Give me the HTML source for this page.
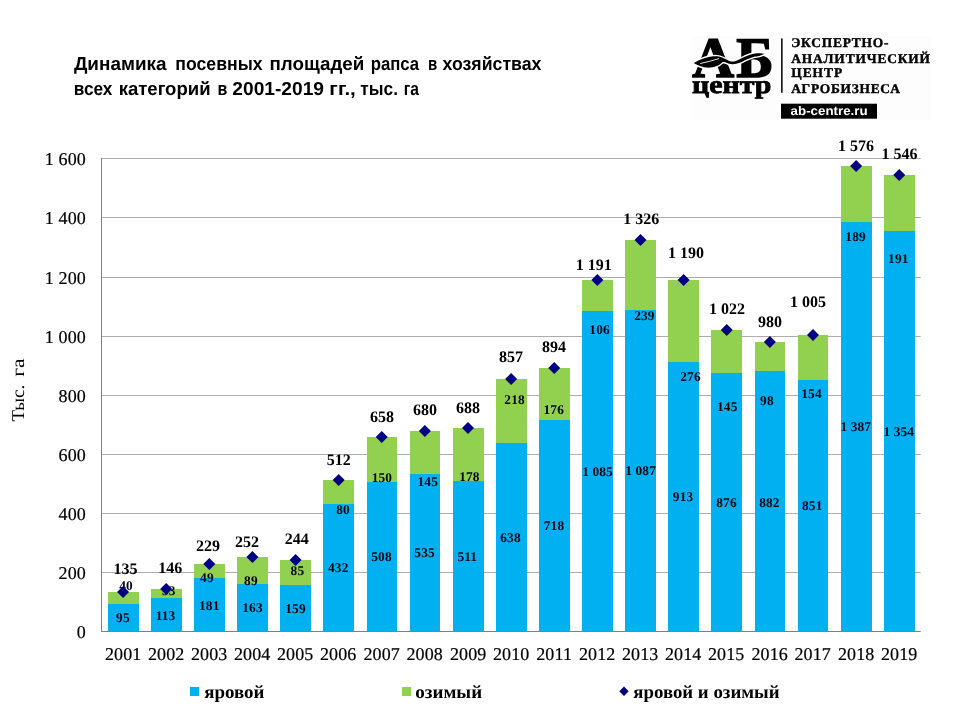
<!DOCTYPE html>
<html lang="ru">
<head>
<meta charset="utf-8">
<title>Динамика посевных площадей рапса</title>
<style>
html,body{margin:0;padding:0;background:#fff;}
body{width:960px;height:720px;overflow:hidden;position:relative;font-family:"Liberation Serif",serif;}
svg{position:absolute;left:0;top:0;display:block;will-change:transform;}
text{text-rendering:geometricPrecision;}
.ax{font-family:"Liberation Serif",serif;font-size:18px;letter-spacing:0.15px;fill:#000;stroke:#000;stroke-width:0.2px;}
.tot{font-family:"Liberation Serif",serif;font-size:16px;font-weight:bold;fill:#000;text-anchor:middle;}
.seg{font-family:"Liberation Serif",serif;font-size:13.33px;letter-spacing:0.15px;font-weight:bold;fill:#000614;text-anchor:middle;}
.leg{font-family:"Liberation Serif",serif;font-size:18.67px;font-weight:bold;fill:#000;}
.ttl{font-family:"Liberation Sans",sans-serif;font-weight:bold;fill:#000;}
.lg1{font-family:"Liberation Serif",serif;font-weight:bold;fill:#000;}
.lg2{font-family:"Liberation Sans",sans-serif;font-weight:bold;fill:#fff;}
</style>
</head>
<body>
<svg width="960" height="720" viewBox="0 0 960 720">
<rect x="0" y="0" width="960" height="720" fill="#ffffff"/>
<text class="ttl" font-size="18.8" transform="translate(73.91,70) scale(1.0062,1)">Динамика</text>
<text class="ttl" font-size="18.8" transform="translate(175.31,70) scale(0.9397,1)">посевных</text>
<text class="ttl" font-size="18.8" transform="translate(269.49,70) scale(0.9989,1)">площадей</text>
<text class="ttl" font-size="18.8" transform="translate(370.71,70) scale(0.8896,1)">рапса</text>
<text class="ttl" font-size="18.8" transform="translate(427.95,70) scale(0.8005,1)">в</text>
<text class="ttl" font-size="18.8" transform="translate(442.62,70) scale(0.9416,1)">хозяйствах</text>
<text class="ttl" font-size="18.8" transform="translate(73.79,95.3) scale(0.9168,1)">всех</text>
<text class="ttl" font-size="18.8" transform="translate(118.65,95.3) scale(0.9871,1)">категорий</text>
<text class="ttl" font-size="18.8" transform="translate(217.38,95.3) scale(0.8532,1)">в</text>
<text class="ttl" font-size="18.8" transform="translate(232.33,95.3) scale(1.0209,1)">2001-2019</text>
<text class="ttl" font-size="18.8" transform="translate(329.36,95.3) scale(1.0916,1)">гг.,</text>
<text class="ttl" font-size="18.8" transform="translate(360.28,95.3) scale(0.9206,1)">тыс.</text>
<text class="ttl" font-size="18.8" transform="translate(403.71,95.3) scale(0.8300,1)">га</text>
<g stroke="#adadad" stroke-width="1" fill="none">
<line x1="101.50" y1="572.50" x2="920.78" y2="572.50"/>
<line x1="101.50" y1="513.50" x2="920.78" y2="513.50"/>
<line x1="101.50" y1="454.50" x2="920.78" y2="454.50"/>
<line x1="101.50" y1="395.50" x2="920.78" y2="395.50"/>
<line x1="101.50" y1="336.50" x2="920.78" y2="336.50"/>
<line x1="101.50" y1="277.50" x2="920.78" y2="277.50"/>
<line x1="101.50" y1="217.50" x2="920.78" y2="217.50"/>
<line x1="101.50" y1="158.50" x2="920.78" y2="158.50"/>
</g>
<g shape-rendering="auto">
<rect x="108" y="592" width="31" height="12" fill="#92d050"/><rect x="108" y="604" width="31" height="27" fill="#00b0f0"/>
<rect x="151" y="589" width="31" height="9" fill="#92d050"/><rect x="151" y="598" width="31" height="33" fill="#00b0f0"/>
<rect x="194" y="564" width="31" height="14" fill="#92d050"/><rect x="194" y="578" width="31" height="53" fill="#00b0f0"/>
<rect x="237" y="557" width="31" height="27" fill="#92d050"/><rect x="237" y="584" width="31" height="47" fill="#00b0f0"/>
<rect x="280" y="560" width="31" height="25" fill="#92d050"/><rect x="280" y="585" width="31" height="46" fill="#00b0f0"/>
<rect x="323" y="480" width="31" height="24" fill="#92d050"/><rect x="323" y="504" width="31" height="127" fill="#00b0f0"/>
<rect x="367" y="437" width="30" height="45" fill="#92d050"/><rect x="367" y="482" width="30" height="149" fill="#00b0f0"/>
<rect x="410" y="431" width="30" height="43" fill="#92d050"/><rect x="410" y="474" width="30" height="157" fill="#00b0f0"/>
<rect x="453" y="428" width="31" height="53" fill="#92d050"/><rect x="453" y="481" width="31" height="150" fill="#00b0f0"/>
<rect x="496" y="379" width="31" height="64" fill="#92d050"/><rect x="496" y="443" width="31" height="188" fill="#00b0f0"/>
<rect x="539" y="368" width="31" height="52" fill="#92d050"/><rect x="539" y="420" width="31" height="211" fill="#00b0f0"/>
<rect x="582" y="280" width="31" height="31" fill="#92d050"/><rect x="582" y="311" width="31" height="320" fill="#00b0f0"/>
<rect x="625" y="240" width="31" height="70" fill="#92d050"/><rect x="625" y="310" width="31" height="321" fill="#00b0f0"/>
<rect x="668" y="280" width="31" height="82" fill="#92d050"/><rect x="668" y="362" width="31" height="269" fill="#00b0f0"/>
<rect x="711" y="330" width="31" height="43" fill="#92d050"/><rect x="711" y="373" width="31" height="258" fill="#00b0f0"/>
<rect x="755" y="342" width="30" height="29" fill="#92d050"/><rect x="755" y="371" width="30" height="260" fill="#00b0f0"/>
<rect x="798" y="335" width="30" height="45" fill="#92d050"/><rect x="798" y="380" width="30" height="251" fill="#00b0f0"/>
<rect x="841" y="166" width="31" height="56" fill="#92d050"/><rect x="841" y="222" width="31" height="409" fill="#00b0f0"/>
<rect x="884" y="175" width="31" height="56" fill="#92d050"/><rect x="884" y="231" width="31" height="400" fill="#00b0f0"/>
</g>
<g stroke="#808080" stroke-width="1" fill="none"><line x1="101.50" y1="158.00" x2="101.50" y2="632.00"/><line x1="101.00" y1="631.50" x2="920.78" y2="631.50"/></g>
<g class="ax" text-anchor="end">
<text x="86.0" y="637.50">0</text>
<text x="86.0" y="578.50">200</text>
<text x="86.0" y="519.50">400</text>
<text x="86.0" y="460.50">600</text>
<text x="86.0" y="401.50">800</text>
<text x="86.0" y="342.50">1 000</text>
<text x="86.0" y="283.50">1 200</text>
<text x="86.0" y="223.50">1 400</text>
<text x="86.0" y="164.50">1 600</text>
</g>
<g class="ax" text-anchor="middle">
<text x="123.20" y="660">2001</text>
<text x="166.20" y="660">2002</text>
<text x="209.20" y="660">2003</text>
<text x="252.20" y="660">2004</text>
<text x="295.20" y="660">2005</text>
<text x="338.20" y="660">2006</text>
<text x="381.70" y="660">2007</text>
<text x="424.70" y="660">2008</text>
<text x="468.20" y="660">2009</text>
<text x="511.20" y="660">2010</text>
<text x="554.20" y="660">2011</text>
<text x="597.20" y="660">2012</text>
<text x="640.20" y="660">2013</text>
<text x="683.20" y="660">2014</text>
<text x="726.20" y="660">2015</text>
<text x="769.70" y="660">2016</text>
<text x="812.70" y="660">2017</text>
<text x="856.20" y="660">2018</text>
<text x="899.20" y="660">2019</text>
</g>
<text font-family="Liberation Serif" font-size="18" fill="#000" transform="translate(24.1,421.38) rotate(-90) scale(1.0568,1)">Тыс.</text>
<text font-family="Liberation Serif" font-size="18" fill="#000" transform="translate(24.1,376.68) rotate(-90) scale(1.1856,1)">га</text>
<g class="seg">
<text x="122.90" y="622">95</text><text x="126.00" y="590">40</text>
<text x="165.50" y="620">113</text><text x="168.75" y="595">33</text>
<text x="209.25" y="610">181</text><text x="206.90" y="582">49</text>
<text x="252.50" y="612">163</text><text x="250.90" y="585">89</text>
<text x="295.50" y="613">159</text><text x="297.40" y="575">85</text>
<text x="338.25" y="572">432</text><text x="343.10" y="514">80</text>
<text x="381.50" y="561">508</text><text x="381.90" y="482">150</text>
<text x="424.60" y="557">535</text><text x="427.75" y="486">145</text>
<text x="467.25" y="561">511</text><text x="469.40" y="481">178</text>
<text x="510.50" y="542">638</text><text x="514.60" y="404">218</text>
<text x="554.00" y="530">718</text><text x="553.75" y="414">176</text>
<text x="597.50" y="476">1 085</text><text x="599.60" y="334">106</text>
<text x="640.60" y="475">1 087</text><text x="644.40" y="320">239</text>
<text x="683.10" y="501">913</text><text x="690.50" y="381">276</text>
<text x="726.50" y="507">876</text><text x="727.25" y="411">145</text>
<text x="769.40" y="507">882</text><text x="766.90" y="405">98</text>
<text x="812.25" y="510">851</text><text x="811.50" y="398">154</text>
<text x="855.75" y="431">1 387</text><text x="855.60" y="241">189</text>
<text x="898.75" y="436">1 354</text><text x="898.30" y="263">191</text>
</g>
<g fill="#000080">
<path d="M123.06 586.10L129.06 592.10L123.06 598.10L117.06 592.10Z"/>
<path d="M166.18 583.10L172.18 589.10L166.18 595.10L160.18 589.10Z"/>
<path d="M209.30 558.10L215.30 564.10L209.30 570.10L203.30 564.10Z"/>
<path d="M252.42 551.10L258.42 557.10L252.42 563.10L246.42 557.10Z"/>
<path d="M295.54 554.10L301.54 560.10L295.54 566.10L289.54 560.10Z"/>
<path d="M338.66 474.10L344.66 480.10L338.66 486.10L332.66 480.10Z"/>
<path d="M381.78 431.10L387.78 437.10L381.78 443.10L375.78 437.10Z"/>
<path d="M424.90 425.10L430.90 431.10L424.90 437.10L418.90 431.10Z"/>
<path d="M468.02 422.10L474.02 428.10L468.02 434.10L462.02 428.10Z"/>
<path d="M511.14 373.10L517.14 379.10L511.14 385.10L505.14 379.10Z"/>
<path d="M554.26 362.10L560.26 368.10L554.26 374.10L548.26 368.10Z"/>
<path d="M597.38 274.10L603.38 280.10L597.38 286.10L591.38 280.10Z"/>
<path d="M640.50 234.10L646.50 240.10L640.50 246.10L634.50 240.10Z"/>
<path d="M683.62 274.10L689.62 280.10L683.62 286.10L677.62 280.10Z"/>
<path d="M726.74 324.10L732.74 330.10L726.74 336.10L720.74 330.10Z"/>
<path d="M769.86 336.10L775.86 342.10L769.86 348.10L763.86 342.10Z"/>
<path d="M812.98 329.10L818.98 335.10L812.98 341.10L806.98 335.10Z"/>
<path d="M856.10 160.10L862.10 166.10L856.10 172.10L850.10 166.10Z"/>
<path d="M899.22 169.10L905.22 175.10L899.22 181.10L893.22 175.10Z"/>
</g>
<g class="tot">
<text x="125.50" y="574">135</text>
<text x="170.25" y="573">146</text>
<text x="208.00" y="551">229</text>
<text x="247.00" y="547">252</text>
<text x="296.75" y="544">244</text>
<text x="338.75" y="465">512</text>
<text x="382.10" y="422">658</text>
<text x="425.10" y="415">680</text>
<text x="468.10" y="413">688</text>
<text x="511.00" y="362">857</text>
<text x="554.10" y="352">894</text>
<text x="593.75" y="270">1 191</text>
<text x="641.25" y="224">1 326</text>
<text x="685.90" y="258">1 190</text>
<text x="727.00" y="314">1 022</text>
<text x="770.00" y="327">980</text>
<text x="808.10" y="307">1 005</text>
<text x="856.00" y="151">1 576</text>
<text x="899.40" y="159">1 546</text>
</g>
<rect x="190" y="687" width="9.2" height="9" fill="#00b0f0"/>
<text class="leg" x="204.2" y="698" textLength="60.3" lengthAdjust="spacingAndGlyphs">яровой</text>
<rect x="402" y="687" width="9.2" height="9" fill="#92d050"/>
<text class="leg" x="415.3" y="698" textLength="66.9" lengthAdjust="spacingAndGlyphs">озимый</text>
<path d="M624 686.4L628.7 691.2L624 696L619.3 691.2Z" fill="#000080"/>
<text class="leg" x="633.3" y="698" textLength="146.3" lengthAdjust="spacingAndGlyphs">яровой и озимый</text>
<g id="logo">
<rect x="691" y="36" width="240" height="85" fill="#fdfdfd"/>
<g stroke="#000" stroke-width="1.5" stroke-linejoin="miter">
<text class="lg1" font-size="57.2" x="692.2" y="76.9" textLength="41.9" lengthAdjust="spacingAndGlyphs">А</text>
<text class="lg1" font-size="57.2" x="736.3" y="76.9" textLength="37.4" lengthAdjust="spacingAndGlyphs">Б</text>
</g>
<path d="M693.62 63.06C694.72 62.51 698.00 60.72 700.19 59.78C702.37 58.84 704.56 58.01 706.75 57.44C708.94 56.86 711.12 56.42 713.31 56.31C715.50 56.20 717.84 56.31 719.87 56.78C721.91 57.25 723.94 58.42 725.50 59.12C727.06 59.83 728.00 60.59 729.25 61.00C730.50 61.41 731.59 61.69 733.00 61.56C734.40 61.44 735.81 61.01 737.69 60.25C739.56 59.48 741.90 57.98 744.25 56.97C746.59 55.95 749.25 54.78 751.75 54.16C754.25 53.53 757.14 53.27 759.25 53.22C761.36 53.17 763.54 53.77 764.40 53.87C763.54 54.23 761.04 55.51 759.25 56.03C757.45 56.55 755.81 56.34 753.62 56.97C751.44 57.59 748.47 58.80 746.12 59.78C743.78 60.76 741.75 62.14 739.56 62.87C737.37 63.61 734.87 64.08 733.00 64.19C731.12 64.30 729.72 63.87 728.31 63.53C726.91 63.19 725.50 62.39 724.56 62.12C723.62 61.86 723.00 61.97 722.69 61.94C722.06 62.44 720.66 64.05 718.94 64.94C717.22 65.83 714.56 66.84 712.37 67.28C710.19 67.72 708.00 67.80 705.81 67.56C703.62 67.33 701.28 66.62 699.25 65.87C697.22 65.12 694.56 63.53 693.62 63.06Z" fill="#fdfdfd" stroke="#fdfdfd" stroke-width="2.8" stroke-linejoin="round"/>
<path d="M693.62 63.06C694.72 62.51 698.00 60.72 700.19 59.78C702.37 58.84 704.56 58.01 706.75 57.44C708.94 56.86 711.12 56.42 713.31 56.31C715.50 56.20 717.84 56.31 719.87 56.78C721.91 57.25 723.94 58.42 725.50 59.12C727.06 59.83 728.00 60.59 729.25 61.00C730.50 61.41 731.59 61.69 733.00 61.56C734.40 61.44 735.81 61.01 737.69 60.25C739.56 59.48 741.90 57.98 744.25 56.97C746.59 55.95 749.25 54.78 751.75 54.16C754.25 53.53 757.14 53.27 759.25 53.22C761.36 53.17 763.54 53.77 764.40 53.87C763.54 54.23 761.04 55.51 759.25 56.03C757.45 56.55 755.81 56.34 753.62 56.97C751.44 57.59 748.47 58.80 746.12 59.78C743.78 60.76 741.75 62.14 739.56 62.87C737.37 63.61 734.87 64.08 733.00 64.19C731.12 64.30 729.72 63.87 728.31 63.53C726.91 63.19 725.50 62.39 724.56 62.12C723.62 61.86 723.00 61.97 722.69 61.94C722.06 62.44 720.66 64.05 718.94 64.94C717.22 65.83 714.56 66.84 712.37 67.28C710.19 67.72 708.00 67.80 705.81 67.56C703.62 67.33 701.28 66.62 699.25 65.87C697.22 65.12 694.56 63.53 693.62 63.06Z" fill="#000"/>
<path d="M700.19 63.53Q709.56 61.66 718.94 58.56" fill="none" stroke="#fdfdfd" stroke-width="0.9"/>
<text class="lg1" font-size="25.3" x="692.0" y="93.3" textLength="79.3" lengthAdjust="spacingAndGlyphs" stroke="#000" stroke-width="0.8">центр</text>
<rect x="781.1" y="38.4" width="1.5" height="54.4" fill="#000"/>
<text class="lg1" font-size="13.4" x="791.2" y="47.4" textLength="97.3" lengthAdjust="spacing" stroke="#000" stroke-width="0.4">ЭКСПЕРТНО-</text>
<text class="lg1" font-size="13.4" x="791.2" y="62.8" textLength="138.8" lengthAdjust="spacing" stroke="#000" stroke-width="0.4">АНАЛИТИЧЕСКИЙ</text>
<text class="lg1" font-size="13.4" x="791.2" y="77.4" textLength="51" lengthAdjust="spacing" stroke="#000" stroke-width="0.4">ЦЕНТР</text>
<text class="lg1" font-size="13.4" x="791.2" y="92.8" textLength="108.6" lengthAdjust="spacing" stroke="#000" stroke-width="0.4">АГРОБИЗНЕСА</text>
<rect x="781" y="103.7" width="96" height="15" fill="#000"/>
<text class="lg2" font-size="12.5" x="790.6" y="115.3" textLength="77" lengthAdjust="spacingAndGlyphs">ab-centre.ru</text>
</g>
</svg>
</body>
</html>
